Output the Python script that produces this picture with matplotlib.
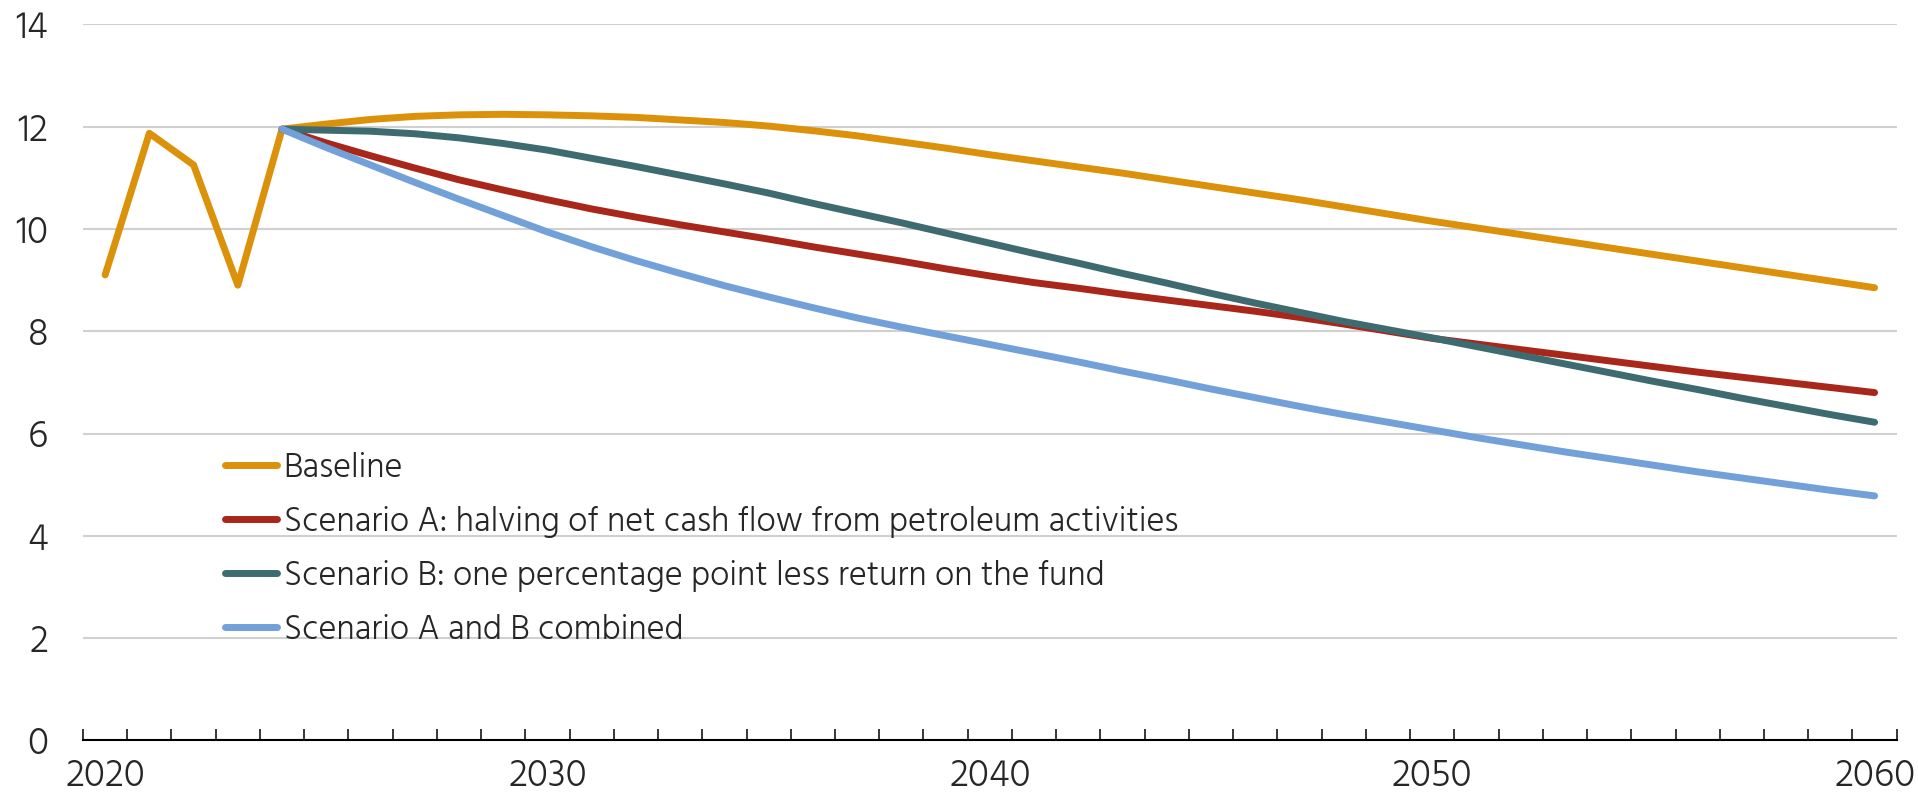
import matplotlib
matplotlib.use("Agg")
import matplotlib.pyplot as plt
from matplotlib.textpath import TextPath
from matplotlib.font_manager import FontProperties
from matplotlib.ticker import FixedLocator

# ---------------- data ----------------
years = list(range(2020, 2061))
baseline = [9.10, 11.87, 11.25, 8.90, 11.95, 12.05, 12.14, 12.20, 12.23, 12.24,
            12.23, 12.21, 12.18, 12.13, 12.08, 12.01, 11.92, 11.82, 11.70, 11.58,
            11.45, 11.33, 11.21, 11.09, 10.96, 10.83, 10.70, 10.57, 10.43, 10.29,
            10.15, 10.02, 9.89, 9.76, 9.63, 9.50, 9.37, 9.24, 9.11, 8.98, 8.85]
scen_years = list(range(2024, 2061))
scen_a = [11.95, 11.68, 11.43, 11.19, 10.96, 10.76, 10.57, 10.39, 10.23, 10.08,
          9.94, 9.80, 9.65, 9.51, 9.37, 9.22, 9.08, 8.95, 8.84, 8.72,
          8.61, 8.50, 8.39, 8.27, 8.14, 8.00, 7.86, 7.75, 7.64, 7.53,
          7.42, 7.31, 7.20, 7.10, 7.00, 6.90, 6.80]
scen_b = [11.95, 11.93, 11.91, 11.86, 11.78, 11.67, 11.54, 11.38, 11.22, 11.05,
          10.88, 10.70, 10.50, 10.31, 10.12, 9.92, 9.72, 9.52, 9.33, 9.13,
          8.94, 8.74, 8.55, 8.37, 8.19, 8.03, 7.87, 7.70, 7.53, 7.36,
          7.19, 7.02, 6.86, 6.69, 6.53, 6.37, 6.22]
scen_ab = [11.95, 11.59, 11.25, 10.91, 10.58, 10.26, 9.94, 9.65, 9.38, 9.13,
           8.89, 8.67, 8.46, 8.26, 8.08, 7.91, 7.74, 7.57, 7.40, 7.22,
           7.05, 6.87, 6.70, 6.53, 6.37, 6.22, 6.07, 5.92, 5.78, 5.64,
           5.51, 5.38, 5.25, 5.13, 5.01, 4.89, 4.78]
labels = ["Baseline",
          "Scenario A: halving of net cash flow from petroleum activities",
          "Scenario B: one percentage point less return on the fund",
          "Scenario A and B combined"]
colors = ["#DC910A", "#A8261A", "#3E6B70", "#72A0D9"]
y_ticks = [0, 2, 4, 6, 8, 10, 12, 14]
x_label_years = [2020, 2030, 2040, 2050, 2060]

# ---------------- style ----------------
W, H, DPI = 1918, 793, 100
FAM = "Hind"
fp = FontProperties(family=FAM, weight=300)
capH = TextPath((0, 0), "H", size=100, prop=fp).get_extents().height / 100
digH = TextPath((0, 0), "0", size=100, prop=fp).get_extents().height / 100
legend_fs = 23.3 / capH * 72 / DPI
tick_fs = 25.7 / digH * 72 / DPI
TXT = "#262626"

fig = plt.figure(figsize=(W / DPI, H / DPI), dpi=DPI)
left, right = 83 / W, 1896.7 / W
bottom, top = 1 - 740.4 / H, 1 - 24.3 / H
ax = fig.add_axes([left, bottom, right - left, top - bottom])

series = [(years, baseline), (scen_years, scen_a), (scen_years, scen_b), (scen_years, scen_ab)]
for (xs, ys), c, lab in zip(series, colors, labels):
    ax.plot(xs, ys, color=c, lw=5.0, solid_capstyle="round", solid_joinstyle="round", label=lab, zorder=3)

ax.set_xlim(2019.5, 2060.5)
ax.set_ylim(0, 14)
ax.set_yticks(y_ticks)
ax.set_xticks(x_label_years)
ax.xaxis.set_minor_locator(FixedLocator([y - 0.5 for y in years] + [2060.5]))
ax.tick_params(axis="x", which="major", length=0, pad=13, labelsize=tick_fs, labelcolor=TXT)
ax.tick_params(axis="x", which="minor", direction="in", length=7.7, width=1.1, color="black")
ax.tick_params(axis="y", length=0, pad=25, labelsize=tick_fs, labelcolor=TXT)
for t in ax.get_xticklabels() + ax.get_yticklabels():
    t.set_fontproperties(FontProperties(family=FAM, weight=300, size=tick_fs))

ax.grid(axis="y", color="#D0D0D0", lw=1.5, zorder=0)
ax.set_axisbelow(True)
for s in ["top", "right", "left"]:
    ax.spines[s].set_visible(False)
ax.spines["bottom"].set_linewidth(1.5)
ax.spines["bottom"].set_color("black")
ax.spines["bottom"].set_zorder(4)

# ---------------- legend (manual, figure pixel positions) ----------------
def fx(px):
    return px / W

def fy(py):
    return 1 - py / H

for k, (c, lab) in enumerate(zip(colors, labels)):
    ly = 465 + k * 53.9
    fig.add_artist(plt.Line2D([fx(225), fx(276.5)], [fy(ly), fy(ly)], color=c, lw=5.0,
                              solid_capstyle="round", transform=fig.transFigure))
    fig.text(fx(283.5), fy(ly + 12), lab, ha="left", va="baseline", color=TXT,
             fontproperties=FontProperties(family=FAM, weight=300, size=legend_fs))

fig.savefig("out.png", dpi=DPI)
